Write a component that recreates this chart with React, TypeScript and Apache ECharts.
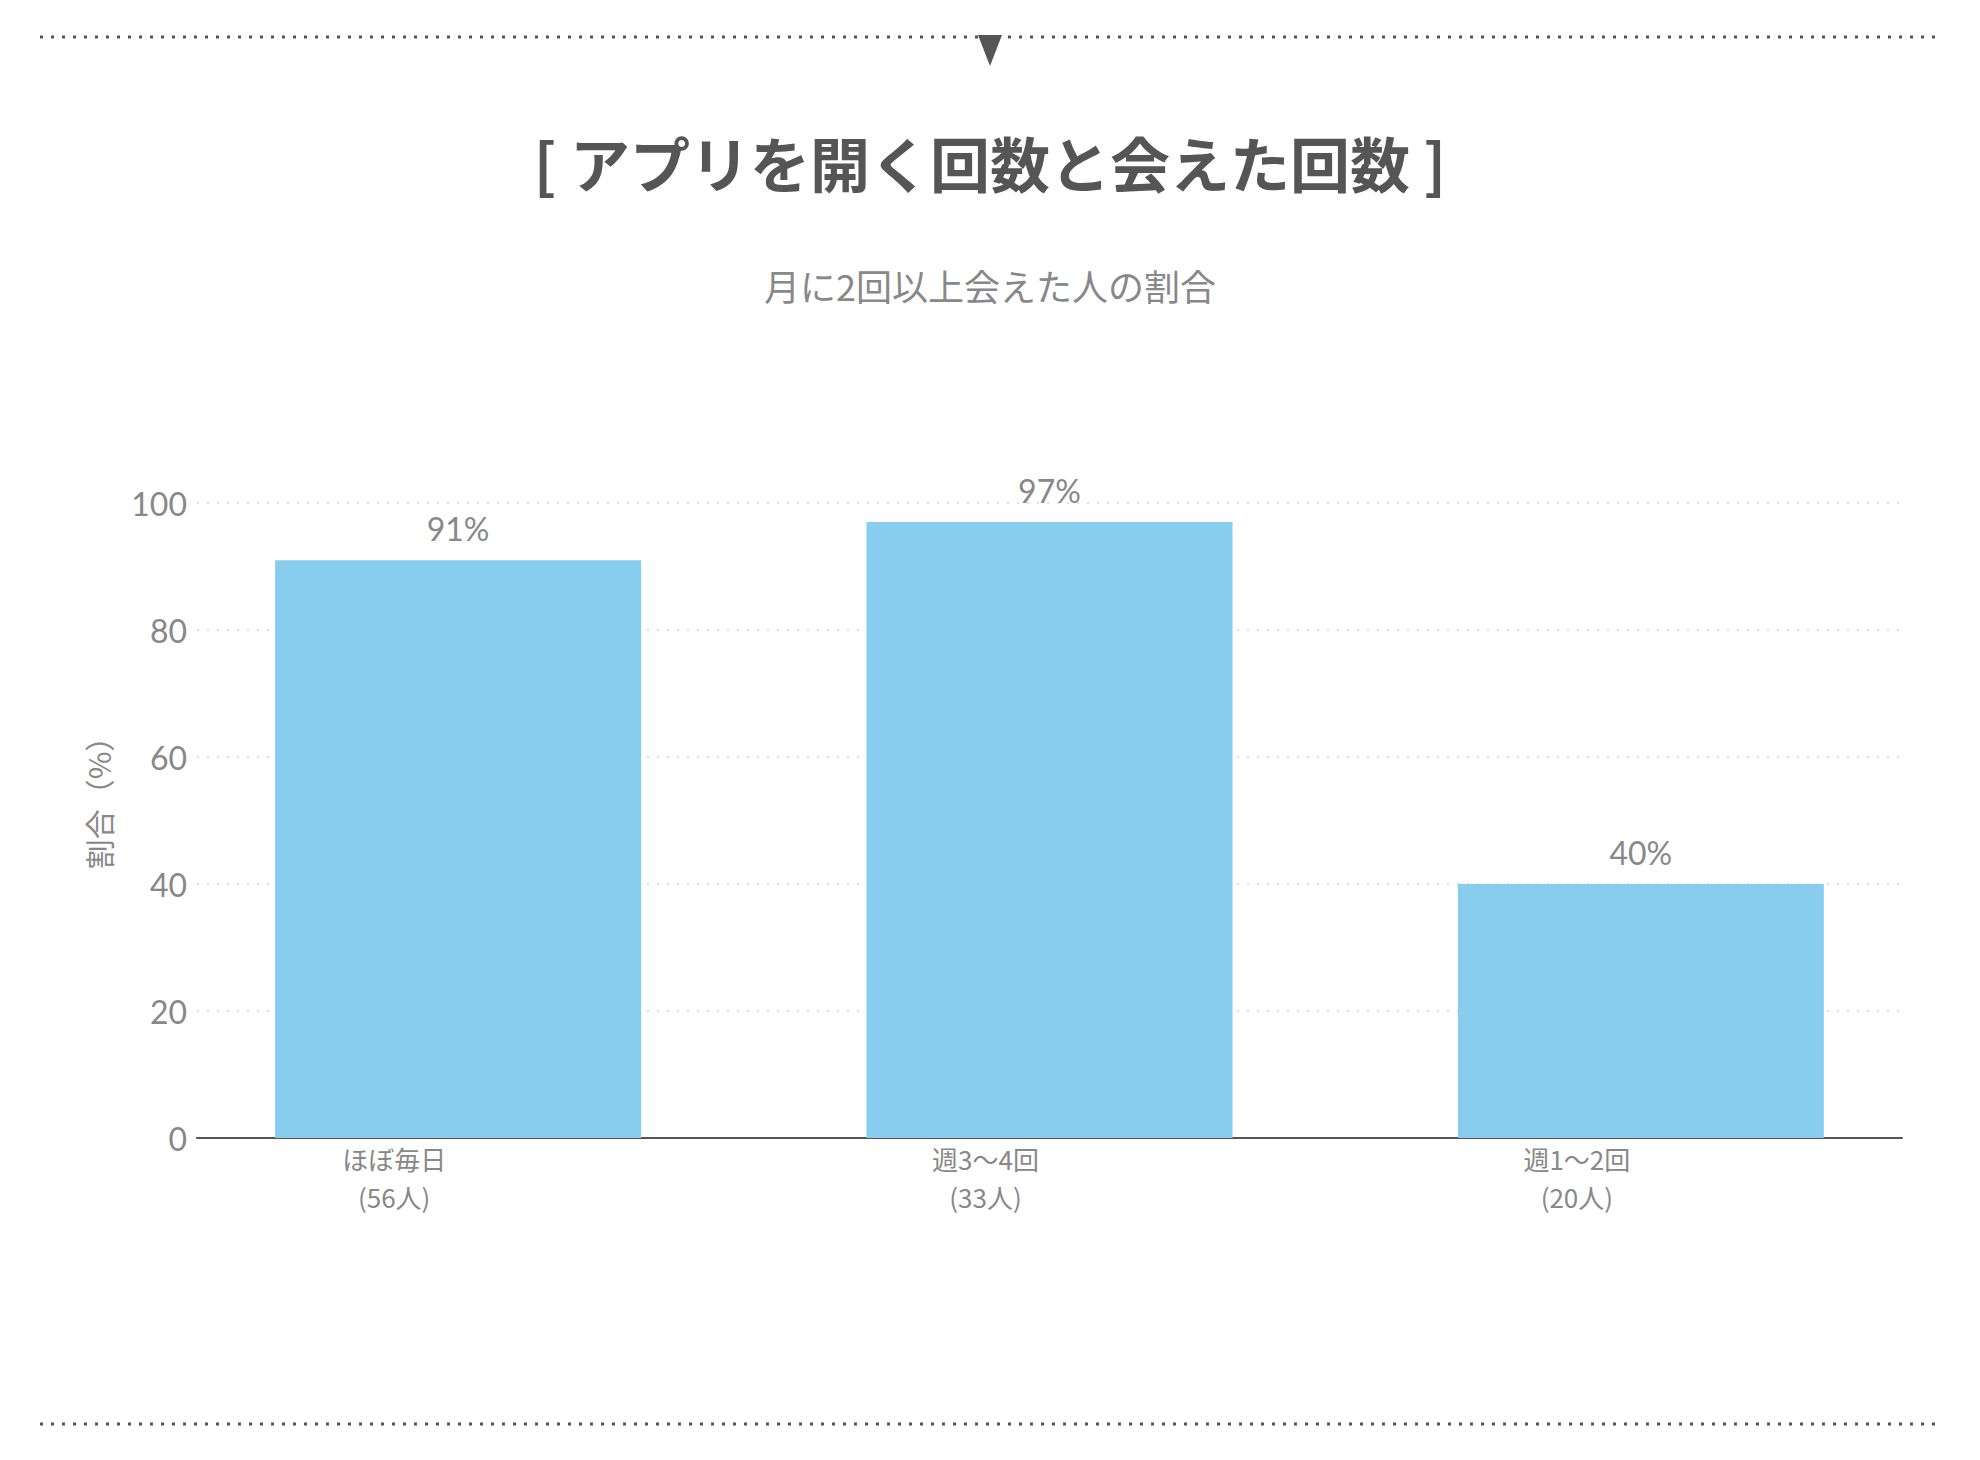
import { useEffect, useRef } from 'react'
import * as echarts from 'echarts'

const categories = ['ほぼ毎日', '週3〜4回', '週1〜2回']
const respondents = [56, 33, 20]
const rates = [91, 97, 40]

const yTicks = { min: 0, max: 100, interval: 20 }

const title = '[ アプリを開く回数と会えた回数 ]'
const subtitle = '月に2回以上会えた人の割合'
const yName = '割合（%）'

const numFont = "Lato, 'Noto Sans CJK JP', sans-serif"
const jpFont = "'Noto Sans CJK JP', sans-serif"

export default function App() {
  const ref = useRef<HTMLDivElement>(null)

  useEffect(() => {
    if (!ref.current) return
    const chart = echarts.init(ref.current, undefined, { renderer: 'svg' })

    const dotted = { stroke: '#555', lineWidth: 3, lineDash: [3, 8] }

    const option: echarts.EChartsOption = {
      animation: false,
      backgroundColor: '#fff',
      title: [
        {
          text: title,
          left: 'center',
          top: 126,
          textStyle: { fontSize: 60, fontWeight: 'bold', color: '#555', fontFamily: jpFont },
        },
        {
          text: subtitle,
          left: 'center',
          top: 262,
          textStyle: { fontSize: 36, fontWeight: 'normal', color: '#888', fontFamily: jpFont },
        },
      ],
      graphic: [
        { type: 'line', shape: { x1: 40, y1: 37, x2: 1941, y2: 37 }, style: dotted, silent: true },
        { type: 'line', shape: { x1: 40, y1: 1424, x2: 1941, y2: 1424 }, style: dotted, silent: true },
        {
          type: 'polygon',
          shape: { points: [[978, 35], [1002, 35], [990, 66]] },
          style: { fill: '#555' },
          silent: true,
        },
      ],
      grid: { left: 197, right: 78, top: 503, bottom: 322 },
      xAxis: {
        type: 'value',
        min: -0.4416,
        max: 2.4416,
        axisLine: { show: true, lineStyle: { color: '#555', width: 2 } },
        axisTick: { show: false },
        splitLine: { show: false },
        axisLabel: {
          customValues: [0, 1, 2],
          formatter: (v: number) => {
            const i = Math.round(v)
            return `${categories[i]}\n(${respondents[i]}人)`
          },
          fontSize: 26,
          lineHeight: 38,
          color: '#888',
          fontFamily: jpFont,
          margin: 1,
          padding: [0, 128, 0, 0],
        },
      },
      yAxis: {
        type: 'value',
        ...yTicks,
        name: yName,
        nameLocation: 'middle',
        nameGap: 84,
        nameTextStyle: { fontSize: 30, color: '#888', fontFamily: jpFont, padding: [0, 0, 0, 50] },
        axisLine: { show: false },
        axisTick: { show: false },
        axisLabel: { fontSize: 32, color: '#888', fontFamily: numFont, margin: 10 },
        splitLine: { lineStyle: { color: '#ddd', width: 2, type: [2, 8] } },
      },
      series: [
        {
          type: 'bar',
          data: rates.map((r, i) => [i, r]),
          barWidth: 366,
          itemStyle: { color: '#88CCEE' },
          label: {
            show: true,
            position: 'top',
            distance: 16,
            formatter: (p: any) => `${p.value[1]}%`,
            fontSize: 32,
            color: '#888',
            fontFamily: numFont,
          },
        },
      ],
    }

    chart.setOption(option)
    return () => chart.dispose()
  }, [])

  return <div ref={ref} style={{ position: 'absolute', left: 0, top: 0, width: 1980, height: 1460 }} />
}
